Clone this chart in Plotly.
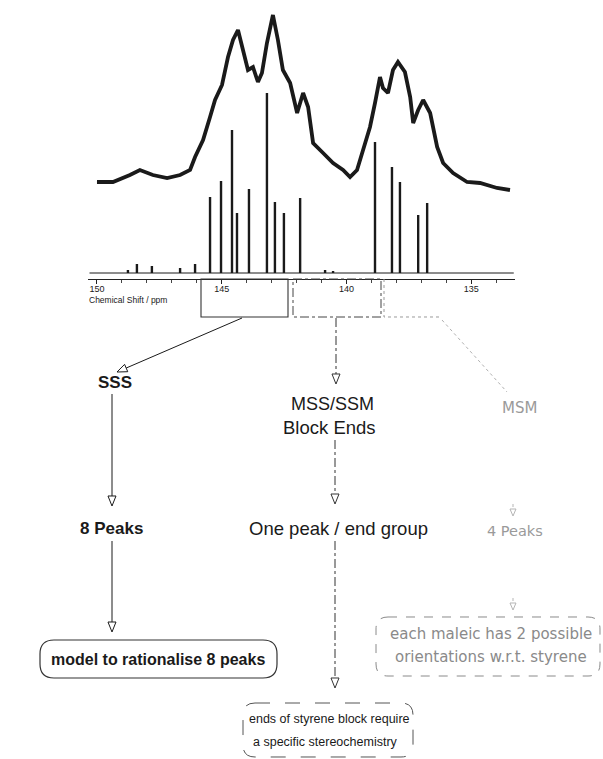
import plotly.graph_objects as go

W, H = 603, 759

# ---------------- data ----------------
stick_ppm = [148.76, 148.40, 147.80, 146.67, 146.07, 145.47, 145.03, 144.59, 144.39, 143.91,
             143.19, 142.87, 142.51, 141.86, 140.86, 140.54, 138.86, 138.18, 137.86, 137.13, 136.77]
stick_int = [3, 9, 7, 5, 9, 76, 92, 143, 60, 84,
             180, 71, 60, 75, 3, 2, 131, 106, 91, 58, 70]

spec_ppm = [150.00, 149.36, 148.68, 148.28, 147.76, 147.19, 146.67, 146.27, 146.07, 145.75,
            145.47, 145.27, 144.99, 144.75, 144.55, 144.35, 144.15, 143.95, 143.75, 143.55,
            143.39, 143.19, 142.95, 142.75, 142.55, 142.26, 141.98, 141.74, 141.54, 141.34,
            140.94, 140.54, 140.14, 139.86, 139.58, 139.34, 139.06, 138.86, 138.66, 138.54,
            138.34, 138.14, 137.94, 137.66, 137.45, 137.33, 137.13, 136.93, 136.65, 136.37,
            136.13, 135.73, 135.17, 134.65, 133.97, 133.45]
spec_int = [18, 18, 25, 30, 25, 22, 25, 30, 43, 60,
            83, 100, 115, 143, 160, 170, 150, 130, 133, 118,
            127, 157, 185, 160, 130, 117, 87, 107, 93, 57,
            47, 37, 30, 23, 30, 50, 73, 97, 123, 112,
            107, 130, 138, 128, 103, 77, 90, 100, 87, 53,
            37, 27, 18, 17, 12, 10]

tick_vals = [150, 145, 140, 135]
tick_text = ["150", "145", "140", "135"]
axis_title = "Chemical Shift / ppm"

branch_labels = ["SSS", "MSS/SSM", "Block Ends", "MSM"]
peak_labels = ["8 Peaks", "One peak / end group", "4 Peaks"]
box_lines = ["model to rationalise 8 peaks",
             "ends of styrene block require", "a specific stereochemistry",
             "each maleic has 2 possible", "orientations w.r.t. styrene"]

# ---------------- helpers ----------------
FONT = "Liberation Sans, Arial, Helvetica, sans-serif"
WIDE = "DejaVu Sans, Verdana, sans-serif"
INK = "#1a1a1a"
GREY = "#9a9a9a"


def P(x, y):
    return f"{x / W:.5f},{1 - y / H:.5f}"


def line_shape(x0, y0, x1, y1, color=INK, width=1, dash="solid"):
    return dict(type="line", xref="paper", yref="paper",
                x0=x0 / W, y0=1 - y0 / H, x1=x1 / W, y1=1 - y1 / H,
                line=dict(color=color, width=width, dash=dash))


def head(tx, ty, fx, fy, size=10, half=4, color=INK, width=1):
    dx, dy = tx - fx, ty - fy
    L = (dx * dx + dy * dy) ** 0.5
    ux, uy = dx / L, dy / L
    bx, by = tx - ux * size, ty - uy * size
    px_, py_ = -uy, ux
    p1 = (bx + px_ * half, by + py_ * half)
    p2 = (bx - px_ * half, by - py_ * half)
    path = f"M {P(tx, ty)} L {P(*p1)} L {P(*p2)} Z"
    return dict(type="path", xref="paper", yref="paper", path=path,
                fillcolor="white", line=dict(color=color, width=width))


def arrow(fx, fy, tx, ty, color=INK, width=1, dash="solid", size=10, half=4):
    dx, dy = tx - fx, ty - fy
    L = (dx * dx + dy * dy) ** 0.5
    ex, ey = tx - dx / L * size, ty - dy / L * size
    return [line_shape(fx, fy, ex, ey, color, width, dash),
            head(tx, ty, fx, fy, size, half, color, width)]


def rrect(x0, y0, x1, y1, r, color=INK, width=1, dash="solid"):
    path = (f"M {P(x0 + r, y0)} L {P(x1 - r, y0)} Q {P(x1, y0)} {P(x1, y0 + r)} "
            f"L {P(x1, y1 - r)} Q {P(x1, y1)} {P(x1 - r, y1)} L {P(x0 + r, y1)} "
            f"Q {P(x0, y1)} {P(x0, y1 - r)} L {P(x0, y0 + r)} Q {P(x0, y0)} {P(x0 + r, y0)} Z")
    return dict(type="path", xref="paper", yref="paper", path=path,
                line=dict(color=color, width=width, dash=dash))


def text(x, y, s, size=15, color=INK, bold=False, family=FONT):
    if bold:
        s = f"<b>{s}</b>"
    return dict(x=x / W, y=1 - y / H, xref="paper", yref="paper", text=s,
                showarrow=False, xanchor="center", yanchor="middle",
                font=dict(family=family, size=size, color=color))


# ---------------- traces ----------------
stick_x, stick_y = [], []
for p, v in zip(stick_ppm, stick_int):
    stick_x += [p, p, None]
    stick_y += [0, v, None]

fig = go.Figure()
fig.add_trace(go.Scatter(x=[150.3, 133.3], y=[0, 0], mode="lines",
                         line=dict(color=INK, width=1), hoverinfo="skip", showlegend=False))
fig.add_trace(go.Scatter(x=stick_x, y=stick_y, mode="lines",
                         line=dict(color=INK, width=2.4), hoverinfo="skip", showlegend=False))
fig.add_trace(go.Scatter(x=spec_ppm, y=spec_int, yaxis="y2", mode="lines",
                         line=dict(color=INK, width=3.8, shape="linear"),
                         hoverinfo="skip", showlegend=False))

# ---------------- shapes ----------------
shapes = []
# region boxes under the axis
shapes.append(dict(type="rect", xref="paper", yref="paper",
                   x0=201 / W, x1=288 / W, y0=1 - 279 / H, y1=1 - 317 / H,
                   line=dict(color="#333", width=1.1)))
shapes.append(dict(type="rect", xref="paper", yref="paper",
                   x0=293 / W, x1=381 / W, y0=1 - 279 / H, y1=1 - 317 / H,
                   line=dict(color="#444", width=1, dash="dashdot")))
shapes.append(dict(type="path", xref="paper", yref="paper",
                   path=f"M {P(384, 279)} L {P(384, 317)} L {P(440, 317)}",
                   line=dict(color=GREY, width=1, dash="dot")))

# arrows
shapes += arrow(242, 318, 117, 372)
shapes += arrow(336, 318, 336, 384, color="#333", dash="dashdot")
shapes.append(line_shape(442, 320, 507, 392, color="#b0b0b0", width=1, dash="dot"))
shapes += arrow(112, 394, 112, 506)
shapes += arrow(112, 541, 112, 632)
shapes += arrow(335, 440, 335, 504, color="#333", dash="dashdot")
shapes += arrow(335, 541, 335, 688, color="#333", dash="dashdot")
shapes += arrow(513, 504, 513, 516, color="#b5b5b5", dash="dot", size=7, half=3)
shapes += arrow(513, 598, 513, 610, color="#b5b5b5", dash="dot", size=7, half=3)

# rounded result boxes
shapes.append(rrect(40, 640, 277, 678, 14, color="#333", width=1.2))
shapes.append(rrect(376, 617, 600, 676, 12, color="#8a8a8a", width=1, dash="dash"))
shapes.append(rrect(243, 703, 413, 757, 12, color="#555", width=1, dash="longdash"))

# ---------------- annotations ----------------
ann = [
    dict(x=128 / W, y=1 - 300 / H, xref="paper", yref="paper", text=axis_title,
         showarrow=False, xanchor="center", yanchor="middle",
         font=dict(family=FONT, size=8.5, color=INK)),
    text(115, 382, branch_labels[0], size=17, bold=True),
    text(332, 404, branch_labels[1], size=18),
    text(330, 427, branch_labels[2], size=18.5),
    text(519, 408, branch_labels[3], size=15, color=GREY, family=WIDE),
    text(111, 528, peak_labels[0], size=17, bold=True),
    text(338, 528, peak_labels[1], size=18.5),
    text(515, 531, peak_labels[2], size=14.5, color=GREY, family=WIDE),
    text(158, 659, box_lines[0], size=16, bold=True),
    text(329, 719, box_lines[1], size=12.5),
    text(325, 742, box_lines[2], size=12.5),
    text(491, 634, box_lines[3], size=15, color="#8a8a8a", family=WIDE),
    text(491, 657, box_lines[4], size=15, color="#8a8a8a", family=WIDE),
]

fig.update_layout(
    width=W, height=H, margin=dict(l=0, r=0, t=0, b=0),
    paper_bgcolor="white", plot_bgcolor="rgba(0,0,0,0)",
    showlegend=False,
    xaxis=dict(domain=[88 / W, 515 / W], range=[150.36, 133.25], anchor="y",
               showline=True, linecolor="#222", linewidth=1.2, mirror=False,
               ticks="outside", ticklen=4, tickcolor="#222", tickwidth=1,
               ticklabelstandoff=-3,
               tickvals=tick_vals, ticktext=tick_text, showgrid=False, zeroline=False,
               tickfont=dict(family=FONT, size=9, color=INK),
               minor=dict(dtick=1, ticks="outside", ticklen=3, tickcolor="#444", showgrid=False)),
    yaxis=dict(domain=[1 - 279 / H, 1], range=[-6, 273], visible=False),
    yaxis2=dict(domain=[1 - 279 / H, 1], range=[-79, 200], overlaying="y", visible=False),
    shapes=shapes,
    annotations=ann,
)

fig.write_html("out.html", config={"displayModeBar": False},
               post_script="document.body.style.margin='0';document.body.style.overflow='hidden';")
